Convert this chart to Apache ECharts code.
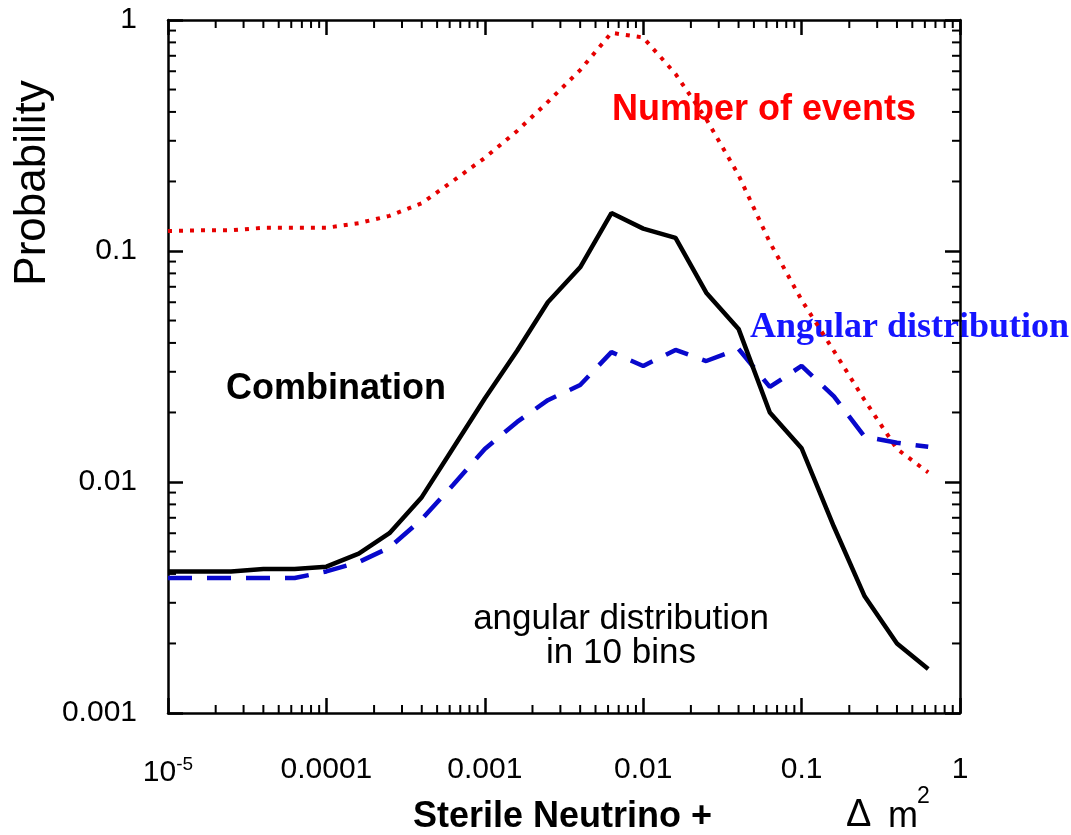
<!DOCTYPE html>
<html>
<head>
<meta charset="utf-8">
<script src="https://cdn.jsdelivr.net/npm/echarts@6/dist/echarts.min.js"></script>
<style>
html, body { margin: 0; padding: 0; background: #fff; }
#main { width: 1071px; height: 835px; }
</style>
</head>
<body>
<div id="main"></div>
<script>
// delta m^2 (eV^2) sample points
var dm2 = [1e-5, 1.6e-5, 2.5e-5, 4e-5, 6.3e-5, 1e-4, 1.6e-4, 2.5e-4, 4e-4, 6.3e-4,
           1e-3, 1.6e-3, 2.5e-3, 4e-3, 6.3e-3, 0.01, 0.016, 0.025, 0.04, 0.063,
           0.1, 0.16, 0.25, 0.4, 0.63];
// probability curves
var combination = [0.0041, 0.0041, 0.0041, 0.0042, 0.0042, 0.0043, 0.0049, 0.0060, 0.0086, 0.014,
                   0.023, 0.037, 0.060, 0.085, 0.146, 0.125, 0.114, 0.066, 0.046, 0.020,
                   0.014, 0.0064, 0.0032, 0.0020, 0.00155];
var angular = [0.00384, 0.00384, 0.00384, 0.00384, 0.00384, 0.0041, 0.0045, 0.0052, 0.0069, 0.0097,
               0.0139, 0.0182, 0.0226, 0.0263, 0.0365, 0.0318, 0.0373, 0.0334, 0.0377, 0.0258,
               0.0318, 0.0235, 0.0157, 0.0148, 0.0142];
var events = [0.122, 0.123, 0.123, 0.126, 0.126, 0.126, 0.132, 0.142, 0.161, 0.201,
              0.253, 0.331, 0.442, 0.607, 0.88, 0.84, 0.584, 0.373, 0.213, 0.109,
              0.0613, 0.0369, 0.0226, 0.0139, 0.011];

var xMin = 1e-5, xMax = 1, yMin = 0.001, yMax = 1;
var FONT = '"Liberation Sans", Arial, Helvetica, sans-serif';

function pairs(xs, ys) {
    return xs.map(function (x, i) { return [x, ys[i]]; });
}

// minor ticks 2..9 of each decade
function minorTicks(lo, hi) {
    var out = [];
    for (var e = Math.round(Math.log10(lo)); e < Math.round(Math.log10(hi)); e++) {
        for (var m = 2; m <= 9; m++) out.push(m * Math.pow(10, e));
    }
    return out;
}

var myChart = echarts.init(document.getElementById('main'));

var tickStyle = { color: '#000', width: 2.5 };
var lineStyle = { color: '#000', width: 2.5 };

var option = {
    backgroundColor: '#fff',
    animation: false,
    grid: { left: 168, right: 111, top: 20, bottom: 122, containLabel: false },
    xAxis: [{
        type: 'log', logBase: 10, min: xMin, max: xMax, position: 'bottom',
        axisLine: { show: true, lineStyle: lineStyle },
        axisTick: { show: true, inside: true, length: 15, lineStyle: tickStyle },
        splitLine: { show: false },
        axisLabel: {
            margin: 42,
            color: '#000',
            fontFamily: FONT,
            fontSize: 30,
            formatter: function (v) {
                var e = Math.round(Math.log10(v));
                if (e === -5) return '{b|10}{s|-5}';
                return e === 0 ? '1' : '0.' + new Array(-e).join('0') + '1';
            },
            rich: {
                b: { fontSize: 30, fontFamily: FONT, color: '#000', lineHeight: 36 },
                s: { fontSize: 19, fontFamily: FONT, color: '#000', verticalAlign: 'top', lineHeight: 18 }
            }
        }
    }, {
        type: 'log', logBase: 10, min: xMin, max: xMax, position: 'top',
        axisLine: { show: true, lineStyle: lineStyle },
        axisTick: { show: true, inside: true, length: 15, lineStyle: tickStyle },
        splitLine: { show: false },
        axisLabel: { show: false }
    }],
    yAxis: [{
        type: 'log', logBase: 10, min: yMin, max: yMax, position: 'left',
        axisLine: { show: true, lineStyle: lineStyle },
        axisTick: { show: true, inside: true, length: 15, lineStyle: tickStyle },
        splitLine: { show: false },
        axisLabel: {
            margin: 31,
            color: '#000',
            fontFamily: FONT,
            fontSize: 30,
            formatter: function (v) {
                var e = Math.round(Math.log10(v));
                return e === 0 ? '1' : '0.' + new Array(-e).join('0') + '1';
            }
        }
    }, {
        type: 'log', logBase: 10, min: yMin, max: yMax, position: 'right',
        axisLine: { show: true, lineStyle: lineStyle },
        axisTick: { show: true, inside: true, length: 15, lineStyle: tickStyle },
        splitLine: { show: false },
        axisLabel: { show: false }
    }],
    graphic: [
        { type: 'text', x: 33, y: 183, rotation: Math.PI / 2,
          style: { text: 'Probability', font: '44px ' + FONT, fill: '#000', textAlign: 'center', textVerticalAlign: 'middle' } },
        { type: 'text', x: 764, y: 110,
          style: { text: 'Number of events', font: 'bold 36px ' + FONT, fill: '#ff0000', textAlign: 'center', textVerticalAlign: 'middle' } },
        { type: 'text', x: 336, y: 389,
          style: { text: 'Combination', font: 'bold 36px ' + FONT, fill: '#000', textAlign: 'center', textVerticalAlign: 'middle' } },
        { type: 'text', x: 750, y: 328, z: -1,
          style: { text: 'Angular distribution', font: 'bold 36px "Liberation Serif", "Times New Roman", serif', fill: '#1515ff', textAlign: 'left', textVerticalAlign: 'middle' } },
        { type: 'text', x: 621, y: 636,
          style: { text: 'angular distribution\nin 10 bins', font: '35px ' + FONT, lineHeight: 34, fill: '#000', textAlign: 'center', textVerticalAlign: 'middle' } },
        { type: 'text', x: 413, y: 817,
          style: { text: 'Sterile Neutrino +', font: 'bold 36px ' + FONT, fill: '#000', textAlign: 'left', textVerticalAlign: 'middle' } },
        { type: 'text', x: 846, y: 816,
          style: { text: 'Δ', font: '38px ' + FONT, fill: '#000', textAlign: 'left', textVerticalAlign: 'middle' } },
        { type: 'text', x: 888, y: 817,
          style: { text: 'm', font: '36px ' + FONT, fill: '#000', textAlign: 'left', textVerticalAlign: 'middle' } },
        { type: 'text', x: 917, y: 797,
          style: { text: '2', font: '23px ' + FONT, fill: '#000', textAlign: 'left', textVerticalAlign: 'middle' } }
    ],
    series: [
        {
            name: 'Number of events', type: 'line', showSymbol: false, symbol: 'none',
            data: pairs(dm2, events),
            lineStyle: { color: '#e60000', width: 4, type: [4, 7] },
            z: 3
        },
        {
            name: 'Angular distribution', type: 'line', showSymbol: false, symbol: 'none',
            data: pairs(dm2, angular),
            lineStyle: { color: '#0808cc', width: 4.5, type: [24, 15] },
            z: 3
        },
        {
            name: 'Combination', type: 'line', showSymbol: false, symbol: 'none',
            data: pairs(dm2, combination),
            lineStyle: { color: '#000', width: 4.5 },
            z: 4
        },
        {
            // minor ticks on bottom and top axes
            type: 'custom', silent: true, clip: false,
            data: minorTicks(xMin, xMax).map(function (v) { return [v, yMin]; }),
            renderItem: function (params, api) {
                var v = api.value(0);
                var b = api.coord([v, yMin]);
                var t = api.coord([v, yMax]);
                var st = { stroke: '#000', lineWidth: 2 };
                return { type: 'group', children: [
                    { type: 'line', shape: { x1: b[0], y1: b[1], x2: b[0], y2: b[1] - 8 }, style: st },
                    { type: 'line', shape: { x1: t[0], y1: t[1], x2: t[0], y2: t[1] + 8 }, style: st }
                ] };
            }
        },
        {
            // minor ticks on left and right axes
            type: 'custom', silent: true, clip: false,
            data: minorTicks(yMin, yMax).map(function (v) { return [xMin, v]; }),
            renderItem: function (params, api) {
                var v = api.value(1);
                var l = api.coord([xMin, v]);
                var r = api.coord([xMax, v]);
                var st = { stroke: '#000', lineWidth: 2 };
                return { type: 'group', children: [
                    { type: 'line', shape: { x1: l[0], y1: l[1], x2: l[0] + 8, y2: l[1] }, style: st },
                    { type: 'line', shape: { x1: r[0], y1: r[1], x2: r[0] - 8, y2: r[1] }, style: st }
                ] };
            }
        }
    ]
};
myChart.setOption(option);
</script>
</body>
</html>
